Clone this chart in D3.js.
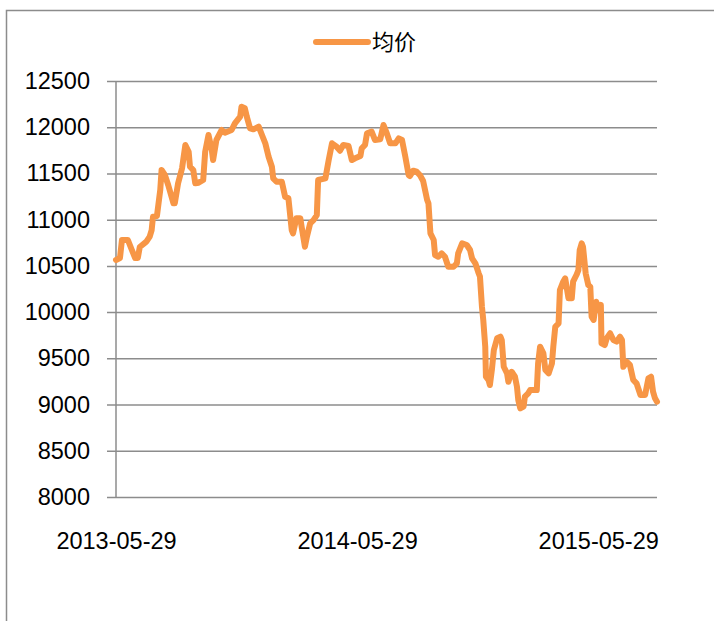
<!DOCTYPE html>
<html>
<head>
<meta charset="utf-8">
<script src="https://cdn.jsdelivr.net/npm/d3@7"></script>
<style>
	html, body { margin: 0; padding: 0; background: #fff; }
	svg { display: block; }
	text { font-family: "Liberation Sans", Arial, sans-serif; fill: #000; }
</style>
</head>
<body>
<svg id="chart" width="714" height="621"></svg>
<script>
const seriesName = "均价";
const startDate = "2013-05-29";
const endOffset = 819;
// day offsets from startDate, and the average price on that day
const dayOffsets = [0, 6, 9, 18, 24, 29, 33, 36, 46, 51, 54, 56, 62, 67, 69, 74, 79, 87, 89, 94,
	100, 105, 110, 112, 117, 120, 125, 132, 135, 140, 145, 147, 152, 156, 160, 165, 175, 180, 188, 190,
	195, 198, 203, 208, 216, 221, 226, 231, 236, 238, 243, 251, 256, 261, 266, 268, 273, 279, 281, 286,
	289, 294, 299, 304, 306, 317, 322, 327, 334, 339, 344, 352, 357, 362, 370, 372, 377, 380, 387, 392,
	400, 405, 410, 415, 423, 428, 433, 438, 443, 445, 450, 455, 460, 465, 471, 473, 476, 481, 483, 488,
	493, 498, 503, 511, 516, 518, 524, 531, 536, 539, 544, 549, 551, 554, 556, 559, 560, 564, 566, 569,
	572, 577, 582, 584, 587, 592, 594, 599, 604, 607, 609, 612, 617, 619, 624, 627, 637, 639, 642, 647,
	650, 655, 660, 662, 665, 670, 672, 677, 680, 685, 690, 692, 697, 700, 702, 705, 707, 711, 715, 718,
	720, 723, 727, 730, 734, 735, 740, 743, 748, 753, 758, 763, 766, 768, 773, 778, 783, 788, 794, 801,
	806, 810, 813, 816, 819];
const prices = [10564, 10585, 10780, 10780, 10672, 10585, 10585, 10704, 10762, 10816, 10888, 11032, 11040, 11321, 11537, 11483, 11375, 11177, 11177, 11393,
	11556, 11808, 11735, 11573, 11537, 11393, 11400, 11429, 11735, 11916, 11754, 11645, 11862, 11916, 11970, 11941, 11970, 12042, 12114, 12222,
	12205, 12114, 11988, 11977, 12006, 11916, 11826, 11681, 11573, 11447, 11411, 11411, 11248, 11231, 10888, 10852, 11015, 11015, 10924, 10707,
	10816, 10961, 10996, 11050, 11429, 11447, 11645, 11826, 11789, 11746, 11808, 11797, 11645, 11664, 11689, 11772, 11808, 11934, 11952, 11862,
	11869, 12024, 11934, 11826, 11826, 11880, 11862, 11681, 11483, 11472, 11530, 11519, 11483, 11418, 11213, 11177, 10852, 10780, 10618, 10599,
	10636, 10599, 10491, 10491, 10528, 10636, 10744, 10726, 10672, 10582, 10528, 10420, 10383, 10058, 9915, 9626, 9301, 9265, 9211, 9374,
	9590, 9717, 9734, 9698, 9409, 9338, 9247, 9355, 9301, 9193, 9049, 8959, 8977, 9085, 9121, 9157, 9157, 9446, 9626, 9554,
	9374, 9338, 9446, 9626, 9842, 9879, 10239, 10329, 10366, 10149, 10149, 10329, 10401, 10455, 10672, 10744, 10707, 10420, 10293, 10275,
	9950, 9915, 10112, 10023, 10077, 9662, 9644, 9717, 9771, 9698, 9680, 9734, 9698, 9409, 9463, 9428, 9266, 9230, 9103, 9103,
	9284, 9301, 9139, 9068, 9031];
const yTicks = [8000, 8500, 9000, 9500, 10000, 10500, 11000, 11500, 12000, 12500];
const xTickLabels = ["2013-05-29", "2014-05-29", "2015-05-29"];

const svg = d3.select("#chart");
const plotLeft = 116, plotRight = 657, plotTop = 81, plotBottom = 497;

const parse = d3.timeParse("%Y-%m-%d");
const start = parse(startDate);
const data = dayOffsets.map((d, i) => ({ date: d3.timeDay.offset(start, d), value: prices[i] }));

const x = d3.scaleTime()
	.domain([start, d3.timeDay.offset(start, endOffset)])
	.range([plotLeft, plotRight]);
const y = d3.scaleLinear()
	.domain([8000, 12500])
	.range([plotBottom, plotTop]);

// outer chart frame (only left and top edges are in view)
svg.append("path")
	.attr("d", "M6.5,621V10.5H714")
	.attr("fill", "none")
	.attr("stroke", "#8c8c8c")
	.attr("stroke-width", 1.5);

// y axis with gridlines
const yAxis = svg.append("g")
	.attr("transform", `translate(${plotLeft},0)`)
	.call(d3.axisLeft(y).tickValues(yTicks).tickFormat(d3.format("d"))
		.tickSize(-(plotRight - plotLeft)).tickPadding(26).tickSizeOuter(0));
yAxis.select(".domain").remove();
yAxis.selectAll(".tick line")
	.attr("x1", -9)
	.attr("stroke", "#8c8c8c")
	.attr("stroke-width", 1.5);
yAxis.selectAll(".tick text")
	.style("font-size", "23.5px");

svg.append("line")
	.attr("x1", plotLeft).attr("x2", plotLeft)
	.attr("y1", plotTop).attr("y2", plotBottom)
	.attr("stroke", "#8c8c8c")
	.attr("stroke-width", 1.5);

// x axis labels
const xAxis = svg.append("g")
	.attr("transform", `translate(0,${plotBottom})`)
	.call(d3.axisBottom(x).tickValues(xTickLabels.map(parse)).tickFormat(d3.timeFormat("%Y-%m-%d")).tickSize(0).tickPadding(35));
xAxis.select(".domain").remove();
xAxis.selectAll(".tick text")
	.style("font-size", "23.5px");

// price line
const line = d3.line()
	.x(d => x(d.date))
	.y(d => y(d.value));

svg.append("path")
	.datum(data)
	.attr("d", line)
	.attr("fill", "none")
	.attr("stroke", "#f79646")
	.attr("stroke-width", 6)
	.attr("stroke-linejoin", "round")
	.attr("stroke-linecap", "round");

// legend
const legend = svg.append("g").attr("transform", "translate(316,42)");
legend.append("line")
	.attr("x1", 0).attr("x2", 52)
	.attr("stroke", "#f79646")
	.attr("stroke-width", 6)
	.attr("stroke-linecap", "round");
legend.append("text")
	.attr("x", 56)
	.attr("dy", "0.36em")
	.style("font-family", "'Noto Sans CJK SC', sans-serif")
	.style("font-size", "22px")
	.text(seriesName);
</script>
</body>
</html>
